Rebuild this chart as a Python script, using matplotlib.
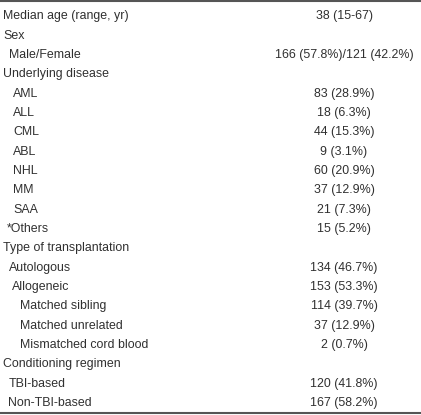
import matplotlib.pyplot as plt

labels = ['Median age (range, yr)', 'Sex', 'Male/Female', 'Underlying disease',
          'AML', 'ALL', 'CML', 'ABL', 'NHL', 'MM', 'SAA', '*Others',
          'Type of transplantation', 'Autologous', 'Allogeneic',
          'Matched sibling', 'Matched unrelated', 'Mismatched cord blood',
          'Conditioning regimen', 'TBI-based', 'Non-TBI-based']
values = ['38 (15-67)', '', '166 (57.8%)/121 (42.2%)', '',
          '83 (28.9%)', '18 (6.3%)', '44 (15.3%)', '9 (3.1%)', '60 (20.9%)',
          '37 (12.9%)', '21 (7.3%)', '15 (5.2%)',
          '', '134 (46.7%)', '153 (53.3%)',
          '114 (39.7%)', '37 (12.9%)', '2 (0.7%)',
          '', '120 (41.8%)', '167 (58.2%)']

# left offsets in px for each row
indent = [3, 3, 9, 3, 13, 13, 13, 13, 13, 13, 13, 7, 3, 9, 12, 20, 20, 20, 3, 9, 8]

W, H = 421, 415
fig = plt.figure(figsize=(W / 100, H / 100), dpi=100)
ax = fig.add_axes([0, 0, 1, 1])
ax.set_xlim(0, W)
ax.set_ylim(H, 0)
ax.axis('off')

plt.rcParams['font.family'] = ['Liberation Sans', 'DejaVu Sans']
col = '#303030'
y0, dy = 19.3, 19.33
for i in range(len(labels)):
    y = y0 + i * dy
    ax.text(indent[i], y, labels[i], fontsize=8.9, color=col, va='baseline', ha='left')
    if values[i]:
        ax.text(344, y, values[i], fontsize=8.9, color=col, va='baseline', ha='center')

ax.plot([0, W], [1, 1], color='#555555', lw=1.5, solid_capstyle='butt')
ax.plot([0, W], [412.5, 412.5], color='#555555', lw=1.5, solid_capstyle='butt')

fig.savefig('out.png', dpi=100)
